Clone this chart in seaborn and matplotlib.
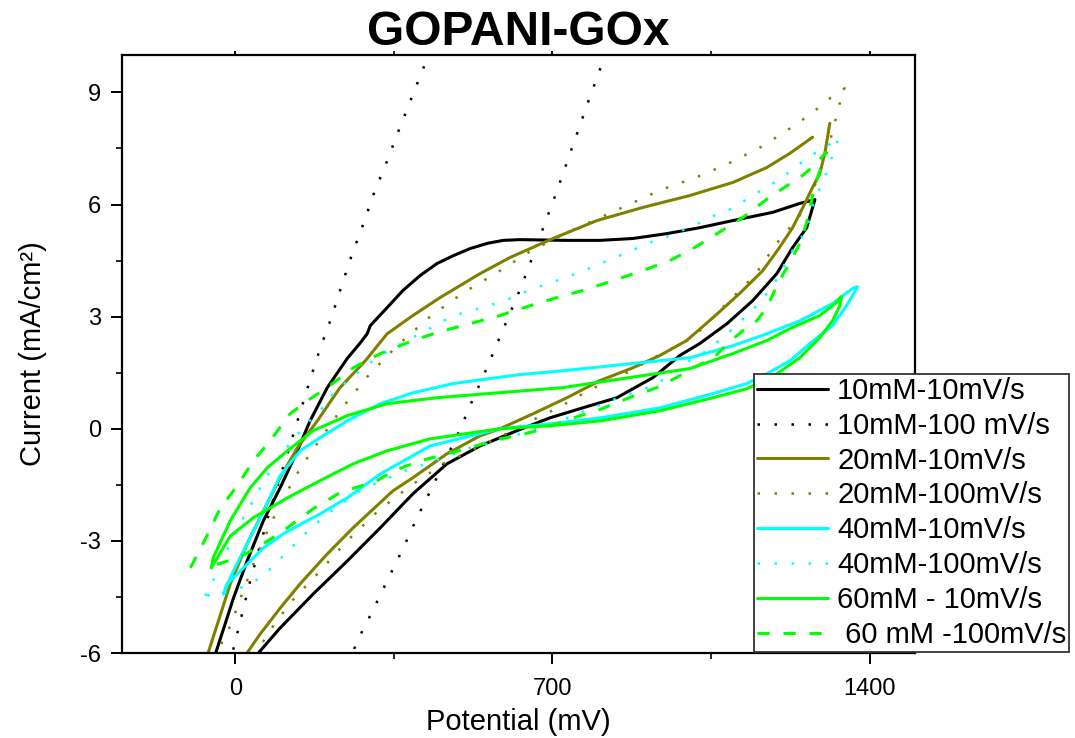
import numpy as np
import pandas as pd
import matplotlib
matplotlib.use("Agg")
import matplotlib.pyplot as plt
from matplotlib.lines import Line2D
from matplotlib.ticker import MultipleLocator
import seaborn as sns

sns.set_theme(style="ticks")
plt.rcParams["font.family"] = ["Liberation Sans", "DejaVu Sans"]
plt.rcParams["axes.unicode_minus"] = False
plt.rcParams["text.color"] = "black"

# Cyclic voltammograms: potential (mV) vs current density (mA/cm^2).
# NaN marks a break in a trace.
c10_slow_x = [-55, -44, -4, 26, 62, 99, 137, 165, 203, 247, 276, 291, 298, 335, 370, 408, 445,
              481, 518, 556, 591, 628, 732, 805, 877, 952, 1025, 1098, 1186, 1246, 1279, 1274,
              1261, 1230, 1195, 1142, 1085, 1025, 981, 922, 842, 767, 694, 622, 540, 467, 392,
              320, 247, 172, 99, 51, 33]
c10_slow_y = [-6.35, -6.03, -4.53, -3.54, -2.46, -1.58, -0.59, 0.21, 1.10, 1.88, 2.30, 2.54, 2.76,
              3.24, 3.70, 4.10, 4.42, 4.63, 4.82, 4.96, 5.04, 5.06, 5.04, 5.04, 5.09, 5.22, 5.38,
              5.57, 5.79, 6.03, 6.13, 5.92, 5.38, 4.85, 4.15, 3.43, 2.81, 2.28, 1.96, 1.37, 0.83,
              0.56, 0.29, -0.05, -0.46, -0.94, -1.74, -2.65, -3.54, -4.42, -5.33, -6.0, -6.27]

c10_fast_x = [-15, -7, 33, 71, 112, 134, 165, 187, 212, 234, 256, 282, 306, 333, 359, 386, 414, 443,
              np.nan,
              832, 805, 780, 756, 732, 708, 683, 657, 631, 602, 573, 545, 514, 500, 467, 434, 401,
              370, 335, 302, 267, 254, 245]
c10_fast_y = [-6.35, -6.03, -4.07, -2.41, -0.78, 0.08, 1.31, 2.14, 2.97, 3.80, 4.61, 5.46, 6.30,
              7.10, 7.93, 8.76, 9.62, 10.5,
              np.nan,
              10.5, 9.62, 8.79, 7.96, 7.13, 6.30, 5.49, 4.63, 3.80, 2.97, 2.14, 1.34, 0.51, 0.08,
              -0.75, -1.58, -2.38, -3.21, -4.07, -4.90, -5.73, -6.2, -6.5]

c20_slow_x = [-68, -60, -11, 26, 62, 99, 137, 181, 231, 287, 335, 392, 452, 540, 606, 701, 798,
              899, 1003, 1098, 1173, 1224, 1274,
              np.nan,
              1312, 1301, 1290, 1274, 1257, 1230, 1201, 1164, 1113, 1054, 996, 937, 877, 805, 732,
              657, 584, 540, 467, 392, 348, 260, 203, 143, 99, 55, 26, 18]
c20_slow_y = [-6.35, -6.0, -4.15, -3.08, -2.20, -1.31, -0.51, 0.21, 1.10, 1.82, 2.54, 3.03, 3.51,
              4.15, 4.58, 5.09, 5.57, 5.92, 6.24, 6.59, 6.99, 7.37, 7.80,
              np.nan,
              8.17, 7.37, 6.83, 6.46, 6.03, 5.38, 4.85, 4.23, 3.62, 2.97, 2.36, 1.96, 1.63, 1.29,
              0.83, 0.40, 0.0, -0.19, -0.67, -1.31, -1.66, -2.65, -3.35, -4.15, -4.80, -5.49,
              -6.0, -6.27]

c20_fast_x = [-37, -29, -11, 15, 40, 71, 104, 143, 165, 236, 291, 357, 430, 503, 578, 650, 723,
              796, 869, 941, 1016, 1089, 1162, 1235, 1272, 1312, 1345, 1334, 1325, 1307, 1279,
              1246, 1195, 1146, 1080, 1010, 933, 864, 787, 712, 639, 602, 459, 386, 315, 247, 183,
              121, 71, 35]
c20_fast_y = [-6.21, -5.68, -5.28, -4.42, -3.62, -2.73, -1.90, -1.07, -0.67, 0.56, 1.39, 2.22,
              3.00, 3.64, 4.18, 4.74, 5.20, 5.60, 6.00, 6.40, 6.72, 7.10, 7.55, 8.12, 8.44, 8.84,
              9.11, 8.71, 8.28, 7.45, 6.51, 5.71, 4.96, 4.10, 3.30, 2.44, 1.96, 1.50, 1.07, 0.56,
              0.13, -0.11, -0.94, -1.53, -2.20, -3.00, -3.86, -4.66, -5.49, -6.27]

c40_slow_x = [-26, -4, 26, 55, 99, 143, 187, 247, 320, 392, 481, 628, 723, 871, 1003, 1098, 1173,
              1246, 1318, 1362, 1373, 1362, 1349, 1318, 1268, 1224, 1173, 1129, 1054, 937, 805,
              694, 584, 430, 320, 247, 187, 150, 106, 62, 33, 7, -18, -26]
c40_slow_y = [-4.42, -3.80, -3.08, -2.38, -1.26, -0.59, -0.24, 0.21, 0.67, 0.96, 1.21, 1.45, 1.55,
              1.74, 1.90, 2.22, 2.54, 2.89, 3.35, 3.75, 3.80, 3.56, 3.29, 2.76, 2.28, 1.82, 1.47,
              1.21, 0.94, 0.56, 0.29, 0.13, 0.0, -0.46, -1.21, -1.85, -2.28, -2.52, -2.81, -3.19,
              -3.54, -3.86, -4.15, -4.42]

c40_fast_x = [-66, -49, -33, 0, 18, 37, 55, 77, 99, 126, 154, 187, 216, 254, 289, 326, 362, 399,
              437, 472, 509, 545, 582, 619, 655, 690, 728, 765, 800, 838, 875, 910, 948, 985,
              1021, 1058, 1096, 1131, 1168, 1206, 1241, 1279, 1318, 1332, 1318, 1296, 1279, 1261,
              1239, 1217, 1197, 1173, 1146, 1113, 1076, 1041, 1003, 931, 893, 855, 820, 783, 745,
              710, 672, 635, 602, 567, 529, 492, 456, 423, 386, 313, 276, 238, 203, 165, 132, 99,
              62, 22, -22, -66]
c40_fast_y = [-4.47, -4.07, -3.62, -2.79, -2.38, -1.98, -1.58, -1.13, -0.72, -0.32, 0.08, 0.48,
              0.94, 1.34, 1.69, 2.01, 2.25, 2.49, 2.73, 2.97, 3.13, 3.24, 3.38, 3.54, 3.75, 3.88,
              4.04, 4.21, 4.39, 4.58, 4.77, 4.96, 5.12, 5.30, 5.49, 5.71, 5.89, 6.16, 6.43, 6.72,
              7.05, 7.37, 7.66, 7.80, 7.31, 6.56, 6.19, 5.30, 4.96, 4.50, 4.04, 3.62, 3.24, 2.84,
              2.44, 2.09, 1.82, 1.21, 1.02, 0.88, 0.70, 0.54, 0.35, 0.16, 0.03, -0.11, -0.24,
              -0.38, -0.46, -0.64, -0.78, -0.94, -1.07, -1.45, -1.66, -1.98, -2.28, -2.68, -3.08,
              -3.48, -3.94, -4.21, -4.39, -4.47]

c60_slow_x = [-53, -49, -11, 33, 71, 115, 172, 247, 335, 445, 578, 723, 871, 1003, 1098, 1173,
              1224, 1290, 1327, 1338, 1334, 1318, 1290, 1246, 1195, 1129, 1054, 937, 805, 694, 584,
              430, 335, 260, 187, 115, 40, -11, -53]
c60_slow_y = [-3.72, -3.46, -2.46, -1.58, -1.04, -0.59, -0.05, 0.35, 0.67, 0.83, 0.96, 1.10, 1.37,
              1.61, 2.01, 2.36, 2.68, 3.03, 3.38, 3.54, 3.29, 2.89, 2.44, 1.90, 1.47, 1.07, 0.83,
              0.48, 0.21, 0.08, 0.0, -0.27, -0.59, -0.94, -1.39, -1.85, -2.38, -2.87, -3.72]

c60_fast_x = [-99, -66, -33, 4, 40, 77, 121, 159, 203, 260, 320, 392, 452, 518, 584, 650, 710, 767,
              833, 899, 959, 1010, 1063, 1120, 1175, 1202, 1246, 1279, 1303, 1294, 1279, 1261,
              1246, 1224, 1197, 1173, 1151, 1129, 1091, 1054, 1010, 974, 930, 893, 842, 798, 761,
              710, 666, 622, 584, 525, 467, 408, 348, 313, 231, 172, 106, 55, 11, -51]
c60_fast_y = [-3.72, -2.95, -2.12, -1.53, -0.86, -0.32, 0.40, 0.75, 1.10, 1.63, 2.01, 2.36, 2.60,
              2.81, 3.03, 3.29, 3.51, 3.70, 3.96, 4.23, 4.50, 4.82, 5.22, 5.65, 6.16, 6.38, 6.72,
              7.05, 7.39, 7.05, 6.51, 5.52, 4.96, 4.45, 3.88, 3.24, 2.89, 2.71, 2.33, 1.88, 1.63,
              1.37, 1.10, 0.94, 0.70, 0.48, 0.35, 0.13, -0.05, -0.19, -0.27, -0.48, -0.67, -0.86,
              -1.13, -1.39, -1.71, -2.14, -2.73, -3.13, -3.43, -3.67]

labels = ["10mM-10mV/s", "10mM-100 mV/s", "20mM-10mV/s", "20mM-100mV/s",
          "40mM-10mV/s", "40mM-100mV/s", "60mM - 10mV/s", " 60 mM -100mV/s"]
traces = [(c10_slow_x, c10_slow_y), (c10_fast_x, c10_fast_y),
          (c20_slow_x, c20_slow_y), (c20_fast_x, c20_fast_y),
          (c40_slow_x, c40_slow_y), (c40_fast_x, c40_fast_y),
          (c60_slow_x, c60_slow_y), (c60_fast_x, c60_fast_y)]
colors = ["#000000", "#000000", "#808000", "#808000",
          "#00FFFF", "#00FFFF", "#00FF00", "#00FF00"]

SOLID = "-"
DOTTED = (0, (1.0, 5.8))
DASHED = (0, (4.0, 4.5))
styles = [SOLID, DOTTED, SOLID, DOTTED, SOLID, DOTTED, SOLID, DASHED]
widths = [2.2, 1.8, 2.2, 1.8, 2.2, 1.8, 2.2, 2.2]

fig = plt.figure(figsize=(10.75, 7.38), dpi=100)
ax = fig.add_axes([122 / 1075, 1 - 653 / 738, (915 - 122) / 1075, (653 - 55) / 738])
ax.set_facecolor("white")

for (xs, ys), lab, col, ls, lw in zip(traces, labels, colors, styles, widths):
    xs = np.asarray(xs, dtype=float)
    ys = np.asarray(ys, dtype=float)
    seg = np.cumsum(np.isnan(xs))
    df = pd.DataFrame({"potential": xs, "current": ys, "seg": seg}).dropna()
    sns.lineplot(data=df, x="potential", y="current", units="seg", estimator=None,
                 sort=False, color=col, linestyle=ls, linewidth=lw, ax=ax, legend=False)

ax.set_xlim(-250, 1500)
ax.set_ylim(-6, 10)
ax.xaxis.set_major_locator(MultipleLocator(700))
ax.xaxis.set_minor_locator(MultipleLocator(350))
ax.yaxis.set_major_locator(MultipleLocator(3))
ax.yaxis.set_minor_locator(MultipleLocator(1.5))

for side in ["left", "bottom", "top", "right"]:
    ax.spines[side].set_visible(True)
    ax.spines[side].set_color("black")
    ax.spines[side].set_linewidth(1.6)

ax.tick_params(axis="both", which="major", direction="out", length=8, width=1.4,
               labelsize=17, colors="black", pad=7)
ax.tick_params(axis="x", which="major", pad=10)
ax.tick_params(axis="both", which="minor", direction="out", length=4.5, width=1.4)
ax.xaxis.set_tick_params(which="both", top=True, labeltop=False)
for t in ax.xaxis.get_ticklines(minor=False)[1::2] + ax.xaxis.get_ticklines(minor=True)[1::2]:
    t.set_markersize(3)

ax.set_xlabel("Potential (mV)", fontsize=21, labelpad=6, color="black")
ax.set_ylabel("Current (mA/cm²)", fontsize=21, labelpad=24, color="black")
ax.set_title("GOPANI-GOx", fontsize=34.5, fontweight="bold", pad=3, color="black")
ax.grid(False)

handles = [Line2D([], [], color=c, linestyle=s, linewidth=w)
           for c, s, w in zip(colors, styles, widths)]
leg = ax.legend(handles, labels, loc="upper left",
                bbox_to_anchor=(754 / 1075, 1 - 374 / 738), bbox_transform=fig.transFigure,
                fontsize=21, frameon=True, fancybox=False, framealpha=1.0,
                edgecolor="#333333", borderpad=0.1, labelspacing=0.235,
                handlelength=2.45, handletextpad=0.3, borderaxespad=0,
                labelcolor="black")
leg.get_frame().set_linewidth(1.3)
leg.set_zorder(10)

fig.savefig("out.png", dpi=100, facecolor="white")
